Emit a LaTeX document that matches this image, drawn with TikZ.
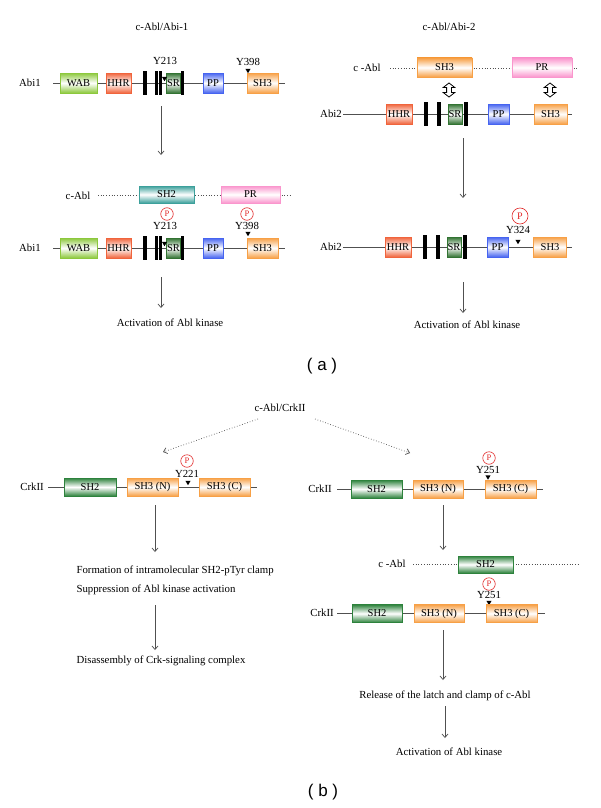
\documentclass[tikz,border=0pt]{standalone}
\usepackage{fontspec}
\setmainfont{Liberation Serif}
\newfontfamily\labfont{Liberation Sans}
\usetikzlibrary{arrows.meta}
\definecolor{cWAB}{RGB}{140,200,60}
\definecolor{cHHR}{RGB}{240,100,60}
\definecolor{cSR}{RGB}{50,115,50}
\definecolor{cPP}{RGB}{70,100,240}
\definecolor{cOr}{RGB}{247,160,70}
\definecolor{cTeal}{RGB}{60,160,155}
\definecolor{cPR}{RGB}{250,150,205}
\definecolor{cGrn}{RGB}{45,130,60}
\definecolor{cRed}{RGB}{225,40,40}
\definecolor{lineg}{RGB}{80,80,80}
\tikzset{
  dom/.style={draw=#1, line width=0.9pt, top color=#1, bottom color=#1, middle color=white,
    minimum height=20pt, inner sep=0pt, font=\fontsize{10.5}{12}\selectfont},
  bar/.style={fill=black, minimum width=3.2pt, minimum height=24pt, inner sep=0pt},
  bb/.style={draw=lineg, line width=0.8pt},
  dotl/.style={draw=lineg, dotted, line width=0.7pt},
  arr/.style={draw=lineg, line width=0.7pt, -{Straight Barb[length=3.5pt,width=6pt]}},
  darr/.style={draw=lineg, dotted, line width=0.7pt, -{Straight Barb[length=3.5pt,width=6pt]}},
  pc/.style={circle, draw=cRed, text=cRed, line width=0.6pt, inner sep=0pt, minimum size=12.5pt, font=\fontsize{8.5}{9}\selectfont},
  tri/.pic={\fill[black] (-2.6,-2.2) -- (2.6,-2.2) -- (0,2.2) -- cycle;},
  dbl/.pic={\draw[line width=0.8pt, black] (0,-7) -- (5.8,-2.5) -- (2.4,-2.5) -- (2.4,2.5) -- (5.8,2.5) -- (0,7) -- (-5.8,2.5) -- (-2.4,2.5) -- (-2.4,-2.5) -- (-5.8,-2.5) -- cycle;},
  lbl/.style={font=\labfont\fontsize{17}{20}\selectfont}
}
\begin{document}
\begin{tikzpicture}[x=1pt,y=-1pt,font=\fontsize{10.8}{12}\selectfont]
\useasboundingbox[fill=white] (0,0) rectangle (600,808);

% ================= (a) left =================
\node (t1) at (162,27) {c-Abl/Abi-1};
\coordinate (r1L) at (53,83); \coordinate (r1R) at (285,83);
\draw[bb] (r1L) -- (r1R);
\node (lab1) at (30,83) {Abi1};
\node[dom=cWAB, minimum width=37pt] (wab1) at (78.5,83) {WAB};
\node[dom=cHHR, minimum width=25pt] (hhr1) at (118.5,83) {HHR};
\node[bar] (b11) at (145,83) {};
\node[bar] (b12) at (156.5,83) {};
\node[bar] (b13) at (160.8,83) {};
\node[dom=cSR, minimum width=14pt] (sr1) at (173.5,83) {SR};
\node[bar] (b14) at (182.5,83) {};
\node[dom=cPP, minimum width=20pt] (pp1) at (213,83) {PP};
\node[dom=cOr, minimum width=31pt] (sh31) at (262.5,83) {SH3};
\node (y213a) at (165,61) {Y213};
\node (y398a) at (248,62) {Y398};
\pic (tr1) at (164.5,79) {tri};
\pic (tr2) at (248,71) {tri};
\coordinate (a1s) at (161,106); \coordinate (a1e) at (161,155);
\draw[arr] (a1s) -- (a1e);

\coordinate (d1L) at (98,195); \coordinate (d1R) at (290,195);
\draw[dotl] (d1L) -- (d1R);
\node (cabl1) at (78,196) {c-Abl};
\node[dom=cTeal, minimum width=55pt, minimum height=17pt] (sh2a) at (166.5,194.5) {SH2};
\node[dom=cPR, minimum width=59pt, minimum height=17pt] (pra) at (250.5,194.5) {PR};
\node[pc] (p1) at (167,214) {P};
\node (y213b) at (165,226) {Y213};
\node[pc] (p2) at (247,214) {P};
\node (y398b) at (247,226) {Y398};
\pic (tr3) at (248,234) {tri};

\coordinate (r2L) at (53,248); \coordinate (r2R) at (285,248);
\draw[bb] (r2L) -- (r2R);
\node (lab2) at (30,248) {Abi1};
\node[dom=cWAB, minimum width=37pt] (wab2) at (78.5,248) {WAB};
\node[dom=cHHR, minimum width=25pt] (hhr2) at (118.5,248) {HHR};
\node[bar] (b21) at (145,248) {};
\node[bar] (b22) at (156.5,248) {};
\node[bar] (b23) at (160.8,248) {};
\node[dom=cSR, minimum width=14pt] (sr2) at (173.5,248) {SR};
\node[bar] (b24) at (182.5,248) {};
\node[dom=cPP, minimum width=20pt] (pp2) at (213,248) {PP};
\node[dom=cOr, minimum width=31pt] (sh32) at (262.5,248) {SH3};
\pic (tr4) at (164.5,244) {tri};
\coordinate (a2s) at (161,277); \coordinate (a2e) at (161,308);
\draw[arr] (a2s) -- (a2e);
\node (act1) at (170,323) {Activation of Abl kinase};

% ================= (a) right =================
\node (t2) at (449,27) {c-Abl/Abi-2};
\coordinate (d2L) at (390,68); \coordinate (d2R) at (578,68);
\draw[dotl] (d2L) -- (d2R);
\node (cabl2) at (367,68) {c -Abl};
\node[dom=cOr, minimum width=55pt, minimum height=19pt] (sh3c) at (444.5,67.5) {SH3};
\node[dom=cPR, minimum width=60pt, minimum height=19pt] (prc) at (542,67.5) {PR};
\pic (db1) at (449,90) {dbl};
\pic (db2) at (550,90) {dbl};

\coordinate (r3L) at (343,114); \coordinate (r3R) at (572,114);
\draw[bb] (r3L) -- (r3R);
\node (lab3) at (331,114) {Abi2};
\node[dom=cHHR, minimum width=26pt] (hhr3) at (399,114) {HHR};
\node[bar] (b31) at (426,114) {};
\node[bar] (b32) at (439,114) {};
\node[dom=cSR, minimum width=14pt] (sr3) at (455,114) {SR};
\node[bar] (b33) at (466,114) {};
\node[dom=cPP, minimum width=21pt] (pp3) at (498.5,114) {PP};
\node[dom=cOr, minimum width=33pt] (sh33) at (550.5,114) {SH3};
\coordinate (a3s) at (463,138); \coordinate (a3e) at (463,198);
\draw[arr] (a3s) -- (a3e);

\coordinate (r4L) at (343,247); \coordinate (r4R) at (572,247);
\draw[bb] (r4L) -- (r4R);
\node (lab4) at (331,247) {Abi2};
\node[dom=cHHR, minimum width=26pt] (hhr4) at (398,247) {HHR};
\node[bar] (b41) at (425,247) {};
\node[bar] (b42) at (438,247) {};
\node[dom=cSR, minimum width=14pt] (sr4) at (454,247) {SR};
\node[bar] (b43) at (465,247) {};
\node[dom=cPP, minimum width=21pt] (pp4) at (497.5,247) {PP};
\node[dom=cOr, minimum width=33pt] (sh34) at (550,247) {SH3};
\node[pc, minimum size=16pt, font=\fontsize{10}{12}\selectfont] (p3) at (520,216) {P};
\node (y324) at (518,230) {Y324};
\pic (tr5) at (518,242) {tri};
\coordinate (a4s) at (463,282); \coordinate (a4e) at (463,313);
\draw[arr] (a4s) -- (a4e);
\node (act2) at (467,325) {Activation of Abl kinase};

\node[lbl] (la) at (322,366) {( a )};

% ================= (b) =================
\node (t3) at (280,408) {c-Abl/CrkII};
\coordinate (da1s) at (258,419); \coordinate (da1e) at (163,452);
\coordinate (da2s) at (315,419); \coordinate (da2e) at (410,453);
\draw[darr] (da1s) -- (da1e);
\draw[darr] (da2s) -- (da2e);

% left
\coordinate (r5L) at (48,487); \coordinate (r5R) at (257,487);
\draw[bb] (r5L) -- (r5R);
\node (lab5) at (32,487) {CrkII};
\node[dom=cGrn, minimum width=52pt, minimum height=18pt] (sh25) at (90,487) {SH2};
\node[dom=cOr, minimum width=51pt, minimum height=18pt] (n5) at (152.5,487) {SH3 (N)};
\node[dom=cOr, minimum width=51pt, minimum height=18pt] (c5) at (224.5,487) {SH3 (C)};
\node[pc] (p4) at (187,461) {P};
\node (y221) at (187,474) {Y221};
\pic (tr6) at (188,483) {tri};
\coordinate (a5s) at (155,505); \coordinate (a5e) at (155,552);
\draw[arr] (a5s) -- (a5e);
\node[anchor=west] (form) at (73,571) {Formation of intramolecular SH2-pTyr clamp};
\node[anchor=west] (supp) at (73,590) {Suppression of Abl kinase activation};
\coordinate (a6s) at (155,605); \coordinate (a6e) at (155,650);
\draw[arr] (a6s) -- (a6e);
\node[anchor=west] (dis) at (73,661) {Disassembly of Crk-signaling complex};

% right
\coordinate (r6L) at (337,489); \coordinate (r6R) at (543,489);
\draw[bb] (r6L) -- (r6R);
\node (lab6) at (320,489) {CrkII};
\node[dom=cGrn, minimum width=51pt, minimum height=18pt] (sh26) at (376.5,489) {SH2};
\node[dom=cOr, minimum width=50pt, minimum height=18pt] (n6) at (438,489) {SH3 (N)};
\node[dom=cOr, minimum width=51pt, minimum height=18pt] (c6) at (510.5,489) {SH3 (C)};
\node[pc] (p5) at (489,458) {P};
\node (y251a) at (488,470) {Y251};
\pic (tr7) at (488,477.5) {tri};
\coordinate (a7s) at (443,505); \coordinate (a7e) at (443,550);
\draw[arr] (a7s) -- (a7e);

\coordinate (d3L) at (413,564); \coordinate (d3R) at (580,564);
\draw[dotl] (d3L) -- (d3R);
\node (cabl3) at (392,564) {c -Abl};
\node[dom=cGrn, minimum width=55pt, minimum height=17pt] (sh2c) at (485.5,564.5) {SH2};
\node[pc] (p6) at (489,584) {P};
\node (y251b) at (489,595) {Y251};
\pic (tr8) at (489,603) {tri};

\coordinate (r7L) at (337,613.5); \coordinate (r7R) at (545,613.5);
\draw[bb] (r7L) -- (r7R);
\node (lab7) at (322,613) {CrkII};
\node[dom=cGrn, minimum width=50pt, minimum height=18pt] (sh27) at (377,613.5) {SH2};
\node[dom=cOr, minimum width=50pt, minimum height=18pt] (n7) at (439,613.5) {SH3 (N)};
\node[dom=cOr, minimum width=51pt, minimum height=18pt] (c7) at (511.5,613.5) {SH3 (C)};
\coordinate (a8s) at (443,630); \coordinate (a8e) at (443,680);
\draw[arr] (a8s) -- (a8e);
\node (rel) at (445,696) {Release of the latch and clamp of c-Abl};
\coordinate (a9s) at (445,706); \coordinate (a9e) at (445,738);
\draw[arr] (a9s) -- (a9e);
\node (act3) at (449,752) {Activation of Abl kinase};

\node[lbl] (lb) at (323,792) {( b )};
\end{tikzpicture}
\end{document}
